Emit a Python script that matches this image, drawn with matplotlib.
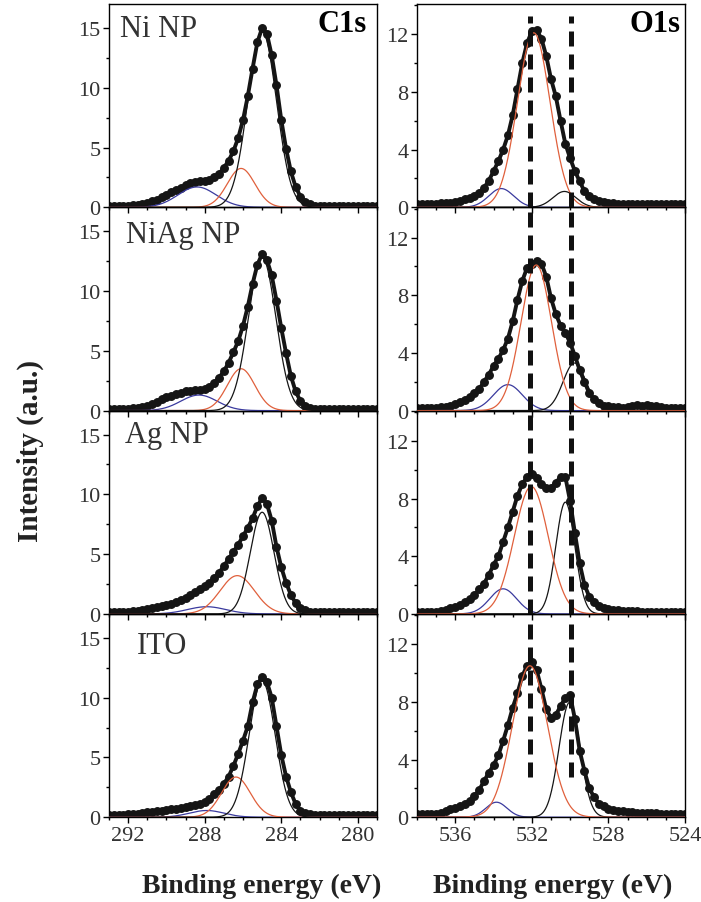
import numpy as np
import matplotlib
matplotlib.use("Agg")
import matplotlib.pyplot as plt
from matplotlib.ticker import MultipleLocator

plt.rcParams["font.family"] = ["Liberation Serif", "DejaVu Serif"]

# ---- data ---------------------------------------------------------------
SAMPLES = ["Ni NP", "NiAg NP", "Ag NP", "ITO"]

# measured spectra, sampled every 0.25 eV (high -> low binding energy)
C1S_ENERGY = np.arange(293.0, 278.99, -0.25)
O1S_ENERGY = np.arange(538.0, 523.99, -0.25)

c1s_ni = [0.10, 0.10, 0.10, 0.12, 0.15, 0.18, 0.22, 0.30,
          0.40, 0.50, 0.65, 0.85, 1.05, 1.25, 1.45, 1.65,
          1.85, 2.00, 2.10, 2.20, 2.20, 2.30, 2.50, 2.80,
          3.30, 3.90, 4.70, 5.80, 7.30, 9.30, 11.6, 13.8,
          15.0, 14.5, 12.7, 10.2, 7.30, 4.90, 3.00, 1.70,
          0.90, 0.45, 0.25, 0.15, 0.12, 0.10, 0.10, 0.10,
          0.10, 0.10, 0.10, 0.10, 0.10, 0.10, 0.10, 0.10,
          0.10]
c1s_niag = [0.10, 0.10, 0.10, 0.11, 0.12, 0.18, 0.24, 0.32,
            0.42, 0.55, 0.75, 0.95, 1.10, 1.25, 1.38, 1.50,
            1.60, 1.68, 1.72, 1.75, 1.80, 1.95, 2.30, 2.75,
            3.30, 4.00, 4.90, 5.80, 7.10, 8.70, 10.6, 12.2,
            13.1, 12.6, 11.3, 9.20, 6.90, 4.80, 2.90, 1.60,
            0.80, 0.40, 0.22, 0.15, 0.12, 0.10, 0.10, 0.10,
            0.10, 0.10, 0.10, 0.10, 0.10, 0.10, 0.10, 0.10,
            0.10]
c1s_ag = [0.15, 0.15, 0.16, 0.18, 0.20, 0.24, 0.28, 0.33,
          0.40, 0.48, 0.55, 0.65, 0.75, 0.85, 1.00, 1.15,
          1.35, 1.55, 1.80, 2.05, 2.30, 2.60, 3.00, 3.45,
          4.00, 4.60, 5.20, 5.80, 6.50, 7.20, 8.00, 9.00,
          9.70, 9.20, 7.80, 5.60, 3.90, 2.60, 1.60, 0.90,
          0.50, 0.30, 0.20, 0.17, 0.15, 0.15, 0.15, 0.15,
          0.15, 0.15, 0.15, 0.15, 0.15, 0.15, 0.15, 0.15,
          0.15]
c1s_ito = [0.20, 0.20, 0.20, 0.22, 0.25, 0.27, 0.30, 0.35,
           0.40, 0.45, 0.50, 0.55, 0.60, 0.65, 0.70, 0.75,
           0.82, 0.90, 0.98, 1.10, 1.30, 1.55, 1.90, 2.30,
           2.80, 3.40, 4.30, 5.30, 6.40, 7.60, 9.60, 11.1,
           11.75, 11.3, 10.0, 7.60, 5.20, 3.40, 2.10, 1.10,
           0.55, 0.35, 0.26, 0.22, 0.20, 0.20, 0.20, 0.20,
           0.20, 0.20, 0.20, 0.20, 0.20, 0.20, 0.20, 0.20,
           0.20]

o1s_ni = [0.25, 0.25, 0.25, 0.25, 0.25, 0.27, 0.28, 0.30,
          0.35, 0.45, 0.55, 0.65, 0.80, 1.00, 1.35, 1.85,
          2.50, 3.20, 4.00, 5.00, 6.40, 8.20, 10.0, 11.4,
          12.2, 12.3, 11.7, 10.5, 8.90, 7.70, 6.00, 4.40,
          3.40, 2.50, 1.80, 1.10, 0.80, 0.60, 0.45, 0.35,
          0.30, 0.28, 0.25, 0.22, 0.22, 0.20, 0.20, 0.20,
          0.20, 0.20, 0.20, 0.20, 0.20, 0.20, 0.20, 0.20,
          0.20]
o1s_niag = [0.20, 0.20, 0.20, 0.20, 0.20, 0.22, 0.28, 0.35,
            0.45, 0.60, 0.75, 0.95, 1.20, 1.50, 2.00, 2.50,
            3.10, 3.60, 4.20, 5.00, 6.20, 7.70, 9.00, 9.90,
            10.2, 10.4, 10.2, 9.30, 7.80, 6.70, 5.90, 5.40,
            4.70, 3.80, 2.80, 2.00, 1.20, 0.80, 0.50, 0.35,
            0.30, 0.25, 0.22, 0.20, 0.22, 0.30, 0.40, 0.35,
            0.40, 0.35, 0.30, 0.25, 0.20, 0.20, 0.20, 0.20,
            0.20]
o1s_ag = [0.15, 0.15, 0.15, 0.15, 0.15, 0.20, 0.30, 0.38,
          0.50, 0.62, 0.80, 1.00, 1.30, 1.70, 2.10, 2.70,
          3.40, 4.00, 5.00, 6.00, 7.10, 8.20, 9.00, 9.50,
          9.70, 9.40, 9.00, 8.70, 8.75, 9.10, 9.50, 9.50,
          7.80, 5.60, 3.50, 2.00, 1.20, 0.80, 0.55, 0.40,
          0.32, 0.28, 0.25, 0.22, 0.20, 0.18, 0.18, 0.16,
          0.15, 0.15, 0.15, 0.15, 0.15, 0.15, 0.15, 0.15,
          0.15]
o1s_ito = [0.20, 0.20, 0.20, 0.20, 0.20, 0.30, 0.42, 0.55,
           0.65, 0.80, 0.90, 1.15, 1.45, 1.90, 2.50, 3.10,
           3.60, 4.30, 5.30, 6.40, 7.60, 8.60, 9.80, 10.5,
           10.75, 10.2, 8.90, 7.50, 6.90, 7.10, 7.70, 8.30,
           8.45, 6.80, 4.60, 3.20, 2.00, 1.40, 0.95, 0.75,
           0.60, 0.50, 0.45, 0.40, 0.38, 0.35, 0.32, 0.30,
           0.30, 0.28, 0.26, 0.25, 0.25, 0.22, 0.22, 0.20,
           0.20]

C1S_DATA = [c1s_ni, c1s_niag, c1s_ag, c1s_ito]
O1S_DATA = [o1s_ni, o1s_niag, o1s_ag, o1s_ito]

# fitted components: position (eV), height, gaussian sigma (eV), per sample
c1s_main_pos = [285.0, 285.0, 285.0, 285.0]
c1s_main_height = [14.7, 12.8, 8.5, 11.4]
c1s_main_sigma = [0.75, 0.72, 0.62, 0.68]
c1s_red_pos = [286.1, 286.1, 286.3, 286.37]
c1s_red_height = [3.25, 3.5, 3.2, 3.36]
c1s_red_sigma = [0.72, 0.72, 0.90, 0.75]
c1s_blue_pos = [288.4, 288.3, 287.9, 287.9]
c1s_blue_height = [1.7, 1.3, 0.6, 0.56]
c1s_blue_sigma = [1.0, 0.95, 1.0, 0.9]

o1s_red_pos = [531.9, 531.77, 532.03, 532.1]
o1s_red_height = [12.1, 10.1, 8.84, 10.5]
o1s_red_sigma = [0.85, 0.80, 0.89, 0.92]
o1s_black_pos = [530.3, 529.77, 530.25, 530.03]
o1s_black_height = [1.1, 3.3, 7.75, 7.96]
o1s_black_sigma = [0.60, 0.60, 0.50, 0.55]
o1s_blue_pos = [533.6, 533.25, 533.5, 533.85]
o1s_blue_height = [1.3, 1.8, 1.74, 1.04]
o1s_blue_sigma = [0.65, 0.75, 0.70, 0.55]

REF_LINES = [532.1, 529.95]   # dashed guides in O1s panels

# ---- style ---------------------------------------------------------------
RED = "#e0603c"
BLUE = "#3a3a9e"
DARK = "#151515"
TICK_TXT = "#333333"
DASH_SPAN = [(0.0, 0.94), (0.0, 1.0), (0.0, 1.0), (0.2, 0.95)]
LABEL_POS = [(0.04, 0.845), (0.065, 0.83), (0.06, 0.845), (0.105, 0.81)]


def gauss(x, pos, height, sigma):
    return height * np.exp(-0.5 * ((x - pos) / sigma) ** 2)


def style_axes(ax, xlim, ylim, xmajor, ymajor, yminor, show_xlabels):
    ax.set_xlim(*xlim)
    ax.set_ylim(*ylim)
    ax.xaxis.set_major_locator(MultipleLocator(xmajor))
    ax.xaxis.set_minor_locator(MultipleLocator(1))
    ax.yaxis.set_major_locator(MultipleLocator(ymajor))
    ax.yaxis.set_minor_locator(MultipleLocator(yminor))
    ax.tick_params(which="both", direction="out", top=False, right=False,
                   width=1.0, labelsize=16, labelcolor=TICK_TXT, pad=1.5)
    ax.tick_params(which="major", length=4.5)
    ax.tick_params(which="minor", length=2.5)
    ax.tick_params(axis="x", labelbottom=show_xlabels)
    for sp in ax.spines.values():
        sp.set_linewidth(1.0)
    ax.set_facecolor("none")


fig = plt.figure(figsize=(7.01, 9.03), dpi=100)
W, H = 701.0, 903.0
row_h = 203.3

c1s_fine = np.linspace(293.0, 279.0, 700)
o1s_fine = np.linspace(538.0, 524.0, 700)

for row in range(4):
    bottom = (H - (5 + row_h * (row + 1))) / H
    height = row_h / H
    axl = fig.add_axes([109 / W, bottom, 268 / W, height])
    axr = fig.add_axes([417 / W, bottom, 268 / W, height])
    last = row == 3

    # C1s
    axl.plot(C1S_ENERGY, C1S_DATA[row], color=DARK, lw=2.8, marker="o",
             ms=5.4, zorder=2)
    axl.plot(c1s_fine, gauss(c1s_fine, c1s_blue_pos[row], c1s_blue_height[row],
                             c1s_blue_sigma[row]), color=BLUE, lw=0.9, zorder=3)
    axl.plot(c1s_fine, gauss(c1s_fine, c1s_red_pos[row], c1s_red_height[row],
                             c1s_red_sigma[row]), color=RED, lw=0.9, zorder=3)
    axl.plot(c1s_fine, gauss(c1s_fine, c1s_main_pos[row], c1s_main_height[row],
                             c1s_main_sigma[row]), color=DARK, lw=0.9, zorder=3)
    style_axes(axl, (293, 279), (0, 17), 4, 5, 2.5, last)
    lx, ly = LABEL_POS[row]
    axl.text(lx, ly, SAMPLES[row], transform=axl.transAxes,
             fontsize=22, color="#333333", ha="left", va="baseline")
    if row == 0:
        axl.text(0.96, 0.865, "C1s", transform=axl.transAxes, fontsize=22,
                 fontweight="bold", ha="right", va="baseline")

    # O1s
    axr.plot(O1S_ENERGY, O1S_DATA[row], color=DARK, lw=2.8, marker="o",
             ms=5.4, zorder=2)
    axr.plot(o1s_fine, gauss(o1s_fine, o1s_blue_pos[row], o1s_blue_height[row],
                             o1s_blue_sigma[row]), color=BLUE, lw=0.9, zorder=3)
    axr.plot(o1s_fine, gauss(o1s_fine, o1s_black_pos[row], o1s_black_height[row],
                             o1s_black_sigma[row]), color=DARK, lw=0.9, zorder=3)
    axr.plot(o1s_fine, gauss(o1s_fine, o1s_red_pos[row], o1s_red_height[row],
                             o1s_red_sigma[row]), color=RED, lw=0.9, zorder=3)
    for xv in REF_LINES:
        axr.axvline(xv, ymin=DASH_SPAN[row][0], ymax=DASH_SPAN[row][1],
                    color="#111111", lw=3.6, dashes=(3.0, 1.6), zorder=4)
    style_axes(axr, (538, 524), (0, 14.1), 4, 4, 2, last)
    if row == 0:
        axr.text(0.985, 0.865, "O1s", transform=axr.transAxes, fontsize=22,
                 fontweight="bold", ha="right", va="baseline")

fig.text(262 / W, 10 / H, "Binding energy (eV)", fontsize=20,
         fontweight="bold", ha="center", va="baseline", color="#222222")
fig.text(553 / W, 10 / H, "Binding energy (eV)", fontsize=20,
         fontweight="bold", ha="center", va="baseline", color="#222222")
fig.text(30 / W, 0.5, "Intensity (a.u.)", fontsize=21, fontweight="bold",
         rotation=90, ha="center", va="center", color="#222222")

fig.savefig("out.png", dpi=100, facecolor="white")
